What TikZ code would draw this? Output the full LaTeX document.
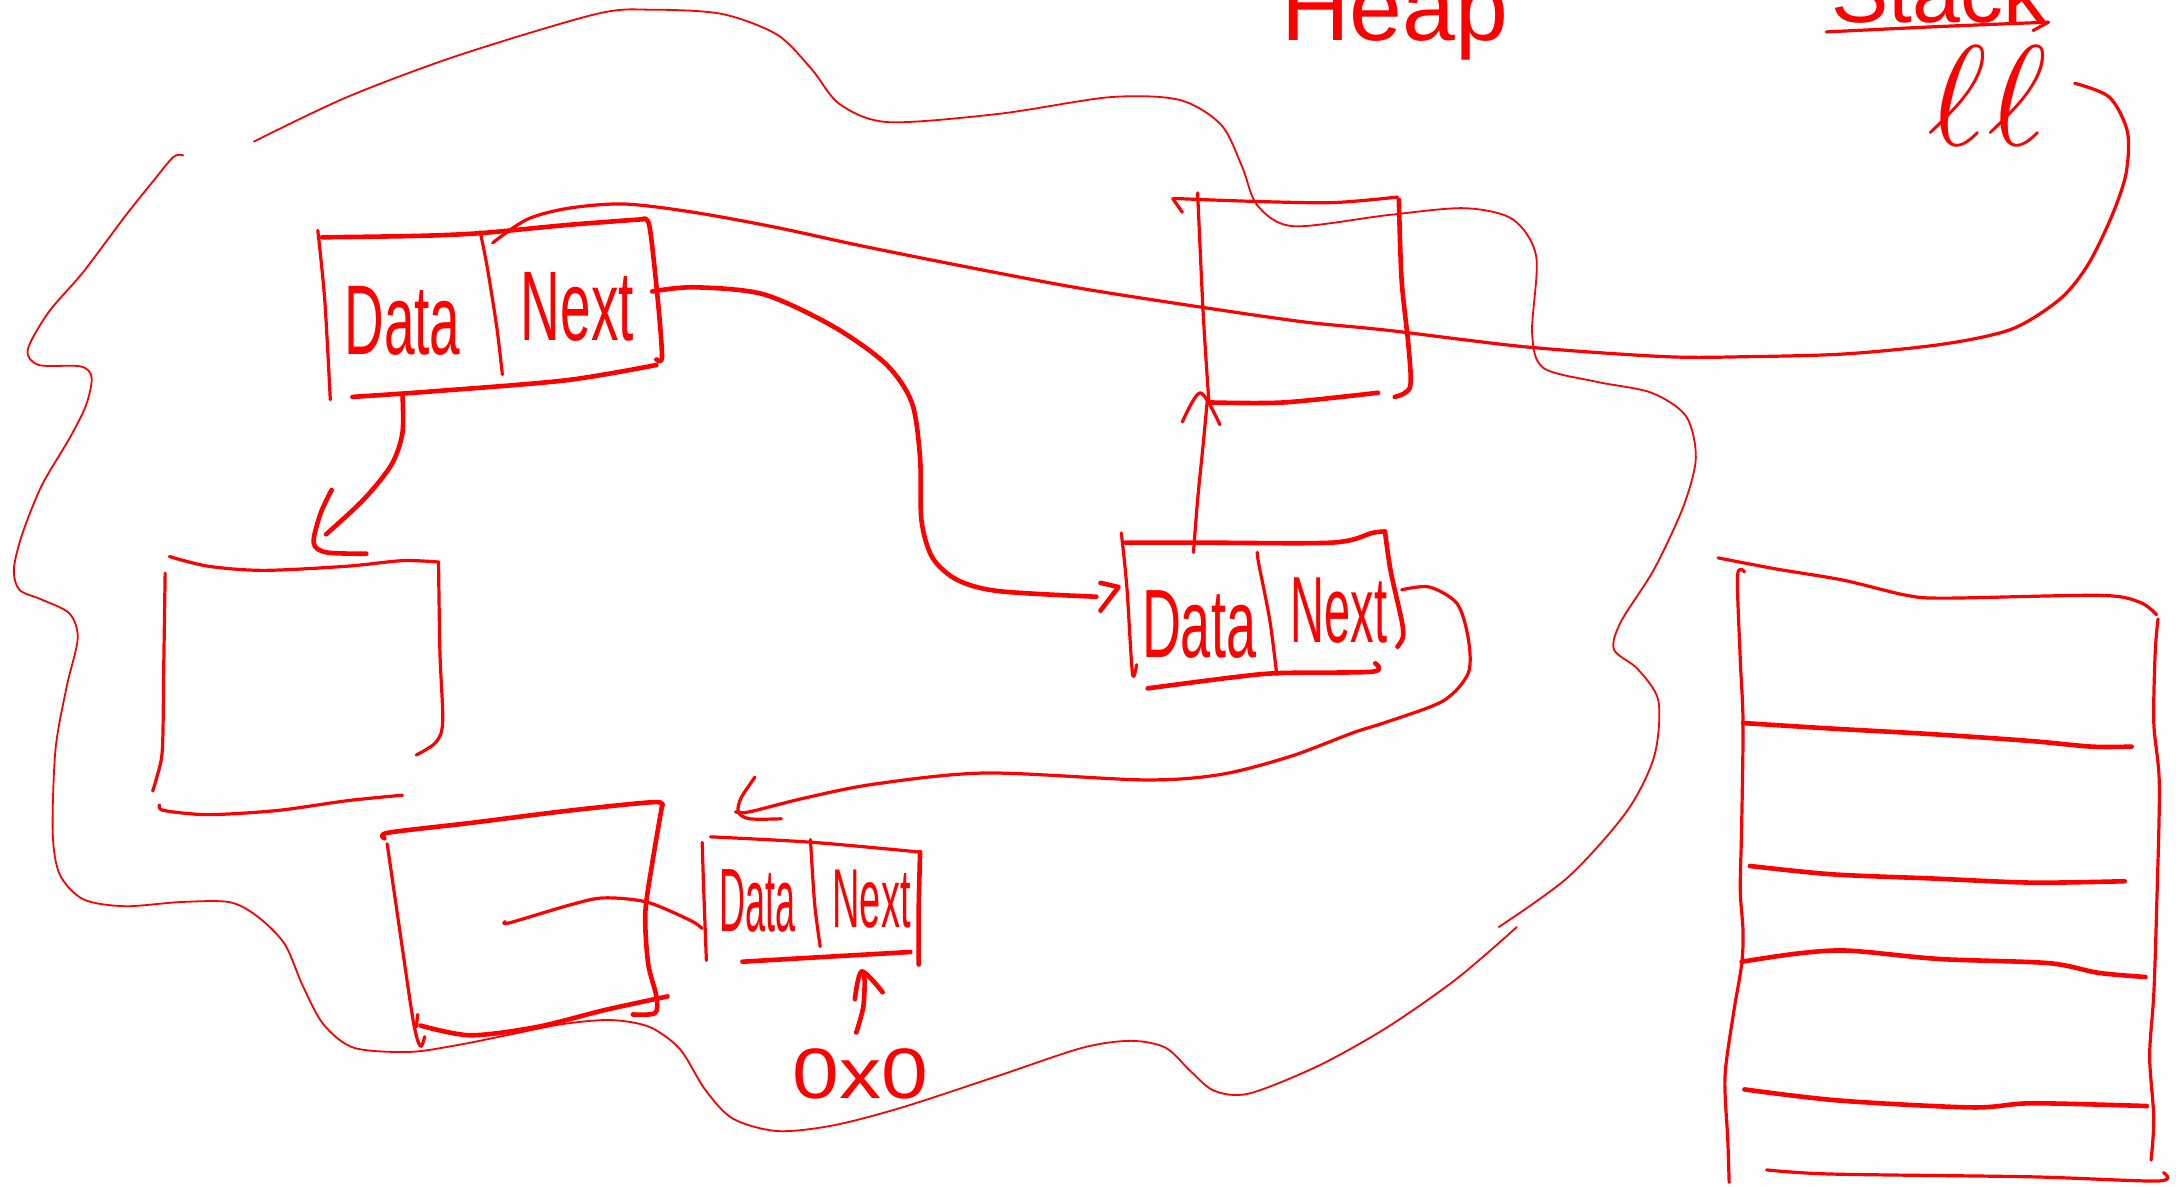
\documentclass[tikz,border=0pt]{standalone}
\usepackage{fontspec}
\setmainfont{Liberation Sans}
\begin{document}
\begin{tikzpicture}[x=1.3878pt,y=-1.3878pt,
  ink/.style={draw=red, line cap=round, line join=round},
  heavy/.style={ink, line width=4.6pt},
  med/.style={ink, line width=3.2pt},
  thinline/.style={ink, line width=1.8pt},
  txt/.style={text=red, inner sep=0pt, outer sep=0pt},
  cellfont/.style={font=\fontsize{#1}{#1}\selectfont}]
\useasboundingbox (0,0) rectangle (1568,855);

% ---------- labels ----------
\node[txt, cellfont=95, anchor=base] (heap) at (1005,29) {Heap};
\node[txt, cellfont=86, anchor=base] (stack) at (1397,16) {Stack};
\node[txt, font=\fontsize{20}{20}\selectfont, xscale=7.0, yscale=6.9, anchor=base] (ll) at (1432,105) {$\ell\ell$};
\draw[med] plot[smooth] coordinates {(1316,23) (1400,19) (1476,16)};
\draw[med] (1465,22) -- (1476,16);

% ---------- heap blob ----------
\draw[thinline] plot[smooth] coordinates {(183,102) (250,70) (330,40) (430,10) (470,7) (520,10) (560,25) (585,50) (605,75) (640,88) (720,82) (800,70) (850,72) (880,90) (895,120) (906,148) (932,163) (1000,155) (1055,150) (1090,158) (1107,185) (1104,240) (1112,265) (1150,275) (1190,283) (1215,300) (1222,330) (1213,365) (1192,410) (1168,448) (1163,468) (1180,482) (1195,505) (1192,545) (1172,585) (1130,632) (1080,668)};
\draw[thinline] plot[smooth] coordinates {(1093,668) (1050,705) (1000,740) (950,768) (900,788) (875,786) (858,772) (840,755) (815,750) (780,755) (720,775) (650,798) (600,811) (560,815) (528,806) (508,785) (490,756) (468,740) (440,735) (405,738) (365,746) (330,753) (295,758) (255,755) (233,738) (218,710) (205,680) (185,660) (165,650) (130,650) (90,653) (60,648) (43,630) (38,600) (40,540) (48,495) (56,460) (50,442) (30,432) (14,425) (10,410) (16,385) (30,350) (50,316) (62,292) (66,272) (58,264) (28,263) (20,252) (35,225) (60,196) (90,156) (110,131) (125,113) (132,112)};

% ---------- node 1 (Data|Next, top left) ----------
\draw[heavy] plot[smooth] coordinates {(232,171) (300,170) (346,168) (410,162) (463,158)};
\draw[heavy] plot[smooth] coordinates {(463,158) (468,163) (474,216) (477,257) (473,259)};
\draw[heavy] plot[smooth] coordinates {(254,286) (312,282) (408,274) (473,263)};
\draw[med] plot[smooth] coordinates {(229,166) (234,216) (238,288)};
\draw[med] plot[smooth] coordinates {(346,167) (351,192) (358,236) (362,270)};
\node[txt, cellfont=55, yscale=1.8] (d1) at (290,231) {Data};
\node[txt, cellfont=55, yscale=1.8] (n1) at (416,221) {Next};
\coordinate (n1top) at (355,175);
\coordinate (n1next) at (470,210);
\coordinate (n1bot) at (290,284);

% ---------- node 2 (empty, left) ----------
\draw[med] plot[smooth] coordinates {(122,401) (150,408) (190,411) (250,408) (290,404) (316,405)};
\draw[med] plot[smooth] coordinates {(316,405) (317,470) (319,520) (314,535) (300,544)};
\draw[med] plot[smooth] coordinates {(119,413) (118,480) (117,540) (113,560) (110,570)};
\draw[med] plot[smooth] coordinates {(115,580) (118,584) (150,587) (200,584) (250,577) (290,573)};
\coordinate (n2in) at (235,385);

% ---------- node 3 (empty, top middle) ----------
\draw[med] (845,143) -- (852,153);
\draw[med] plot[smooth] coordinates {(846,143) (900,145) (960,146) (1007,142)};
\draw[heavy] plot[smooth] coordinates {(1008,144) (1010,202) (1015,250) (1016,279) (1005,286)};
\draw[med] plot[smooth] coordinates {(863,139) (867,226) (871,288)};
\draw[heavy] plot[smooth] coordinates {(872,290) (925,290) (993,283)};
\coordinate (n3in) at (870,288);

% ---------- node 4 (Data|Next, middle right) ----------
\draw[heavy] plot[smooth] coordinates {(811,391) (865,391) (960,391) (989,384) (998,383)};
\draw[heavy] plot[smooth] coordinates {(998,383) (1002,411) (1010,447) (1011,459) (1007,466)};
\draw[med] plot[smooth] coordinates {(808,384) (812,423) (816,485) (819,479)};
\draw[heavy] plot[smooth] coordinates {(827,496) (889,488) (922,485) (989,484) (991,478)};
\draw[med] plot[smooth] coordinates {(906,398) (907,406) (915,447) (920,486)};
\node[txt, cellfont=54, yscale=1.8] (d4) at (864,450) {Data};
\node[txt, cellfont=47, yscale=2.0] (n4) at (965,440) {Next};
\coordinate (n4in) at (790,430);
\coordinate (n4top) at (860,398);
\coordinate (n4next) at (1010,425);

% ---------- node 5 (empty, bottom left) ----------
\draw[heavy] plot[smooth] coordinates {(277,604) (280,600) (339,593) (411,584) (471,578) (477,581)};
\draw[heavy] plot[smooth] coordinates {(477,581) (470,622) (465,658) (467,694) (473,718) (472,730) (456,731)};
\draw[med] plot[smooth] coordinates {(279,608) (288,670) (298,737) (303,754) (306,747)};
\coordinate (n5in) at (303,739);
\coordinate (n5out) at (364,664);

% ---------- node 6 (Data|Next, bottom) ----------
\draw[med] plot[smooth] coordinates {(512,603) (586,607) (663,614)};
\draw[heavy] plot[smooth] coordinates {(663,614) (662,655) (662,695)};
\draw[med] plot[smooth] coordinates {(506,607) (507,639) (509,692)};
\draw[heavy] plot[smooth] coordinates {(535,693) (586,690) (656,686)};
\draw[med] plot[smooth] coordinates {(584,605) (587,651) (591,682)};
\node[txt, cellfont=36, yscale=2.5] (d6) at (546,649) {Data};
\node[txt, cellfont=38, yscale=2.2] (n6) at (628,648) {Next};
\coordinate (n6in) at (530,585);
\coordinate (n6left) at (506,669);
\coordinate (n6bot) at (621,700);

\node[txt, cellfont=84, yscale=0.85] (null) at (620,774) {0x0};

% ---------- connectors ----------
% ll -> node 1
\draw[med] plot[smooth] coordinates {(1495,60) (1520,70) (1533,95) (1532,125) (1522,155) (1505,190) (1485,215) (1450,237) (1400,248) (1330,255) (1260,257) (1200,257) (1100,250) (1000,238) (940,232) (870,222) (780,208) (700,193) (620,177) (560,164) (500,153) (450,147) (410,150) (380,158) (n1top)};
% node 1 next -> node 4
\draw[heavy] plot[smooth] coordinates {(n1next) (500,207) (550,212) (600,235) (638,262) (657,290) (663,330) (664,375) (672,402) (690,418) (720,426) (n4in)};
\draw[heavy] (793,420) -- (806,423) -- (793,440);
% node 1 -> node 2
\draw[heavy] plot[smooth] coordinates {(n1bot) (290,312) (282,335) (262,360) (n2in)};
\draw[heavy] plot[smooth] coordinates {(239,353) (231,370) (226,391) (235,398) (264,399)};
% node 4 -> node 3
\draw[med] plot[smooth] coordinates {(n4top) (863,360) (867,320) (n3in)};
\draw[med] plot[smooth] coordinates {(852,304) (865,283) (879,306)};
% node 4 next -> node 6
\draw[med] plot[smooth] coordinates {(n4next) (1030,423) (1050,435) (1058,460) (1058,485) (1040,505) (1000,520) (975,528) (930,545) (880,558) (825,562) (710,557) (630,565) (580,575) (540,585) (n6in)};
\draw[med] plot[smooth] coordinates {(544,560) (534,575) (532,585) (540,590) (563,590)};
% node 5 -> node 6
\draw[med] plot[smooth] coordinates {(n5out) (367,665) (411,652) (435,647) (466,650) (497,663) (n6left)};
% under node 5 arrow
\draw[heavy] plot[smooth] coordinates {(481,718) (435,728) (387,740) (339,746) (n5in)};
\draw[med] (301,731) -- (300,740);
% 0x0 -> node 6
\draw[heavy] plot[smooth] coordinates {(617,744) (622,726) (623,706) (n6bot)};
\draw[heavy] plot[smooth] coordinates {(616,720) (621,700) (636,715)};

% ---------- stack ----------
\draw[med] plot[smooth] coordinates {(1238,402) (1280,410) (1328,418) (1374,429) (1403,431) (1513,429) (1542,434) (1554,443)};
\draw[med] plot[smooth] coordinates {(1555,446) (1553,470) (1552,521) (1556,566) (1554,656) (1552,716) (1549,761) (1552,806) (1550,836)};
\draw[med] plot[smooth] coordinates {(1257,412) (1252,415) (1254,475) (1256,521) (1255,596) (1254,641) (1256,671) (1255,695) (1249,731) (1243,776) (1245,821) (1246,852)};
\draw[heavy] plot[smooth] coordinates {(1256,521) (1320,525) (1392,529) (1464,534) (1507,538) (1536,538)};
\draw[heavy] plot[smooth] coordinates {(1261,624) (1320,630) (1392,633) (1464,636) (1531,635)};
\draw[heavy] plot[smooth] coordinates {(1255,693) (1296,687) (1332,685) (1397,691) (1476,694) (1512,701) (1546,704)};
\draw[heavy] plot[smooth] coordinates {(1257,785) (1325,793) (1421,798) (1464,795) (1547,797)};
\draw[med] plot[smooth] coordinates {(1273,843) (1320,846) (1464,848) (1555,851) (1559,845)};
\end{tikzpicture}
\end{document}
